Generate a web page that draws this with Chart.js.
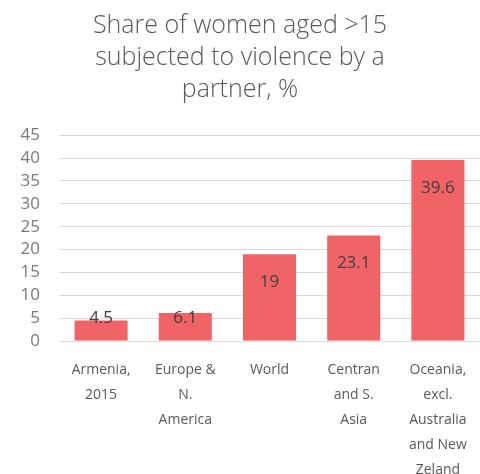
<!DOCTYPE html>
<html>
<head>
<meta charset="utf-8">
<script src="https://cdn.jsdelivr.net/npm/chart.js@4"></script>
<style>
  html, body { margin: 0; padding: 0; background: #fff; }
  #wrap { width: 480px; height: 474px; }
</style>
</head>
<body>
<div id="wrap"><canvas id="myChart" width="480" height="474"></canvas></div>
<script>
var categories = [
  ['Armenia,', '2015'],
  ['Europe &', 'N.', 'America'],
  ['World'],
  ['Centran', 'and S.', 'Asia'],
  ['Oceania,', 'excl.', 'Australia', 'and New', 'Zeland']
];
var shares = [4.5, 6.1, 19, 23.1, 39.6];
var titleLines = ['Share of women aged >15', 'subjected to violence by a', 'partner, %'];

// labels inside the top of each bar, kept off the axis for short bars
var barLabels = {
  id: 'barLabels',
  afterDatasetsDraw: function (chart) {
    var ctx = chart.ctx;
    var meta = chart.getDatasetMeta(0);
    var base = chart.scales.y.getPixelForValue(0);
    ctx.save();
    ctx.font = '17px "Open Sans"';
    ctx.fillStyle = '#404040';
    ctx.textAlign = 'center';
    ctx.textBaseline = 'middle';
    meta.data.forEach(function (bar, i) {
      var y = Math.min(bar.y + 28, base - 23);
      ctx.fillText(String(shares[i]), bar.x, y);
    });
    ctx.restore();
  }
};

var ctx = document.getElementById('myChart').getContext('2d');
var chart = new Chart(ctx, {
  type: 'bar',
  data: {
    labels: categories,
    datasets: [{
      data: shares,
      backgroundColor: '#F06467',
      borderWidth: 0,
      categoryPercentage: 1,
      barPercentage: 0.63
    }]
  },
  options: {
    responsive: false,
    animation: false,
    layout: { padding: { left: 0, right: 0, top: 0, bottom: 0 } },
    plugins: {
      legend: { display: false },
      tooltip: { enabled: false },
      title: {
        display: true,
        text: titleLines,
        color: '#595959',
        font: { family: '"Open Sans"', size: 25, weight: '300', lineHeight: 1.27 },
        padding: { top: 10, bottom: 30 }
      }
    },
    scales: {
      x: {
        grid: { display: false },
        border: { color: '#d9d9d9' },
        ticks: {
          color: '#595959',
          font: { family: '"Open Sans"', size: 14, lineHeight: 1.78 },
          maxRotation: 0,
          autoSkip: false,
          padding: 9
        },
        afterFit: function (scale) { scale.height = 133; }
      },
      y: {
        min: 0,
        max: 45,
        grid: { color: '#d9d9d9', drawTicks: false },
        border: { display: false },
        ticks: {
          stepSize: 5,
          autoSkip: false,
          color: '#7a7a7a',
          font: { family: '"Open Sans"', size: 17 },
          padding: 19
        },
        afterFit: function (scale) { scale.width = 59; }
      }
    }
  },
  plugins: [barLabels]
});
</script>
</body>
</html>
